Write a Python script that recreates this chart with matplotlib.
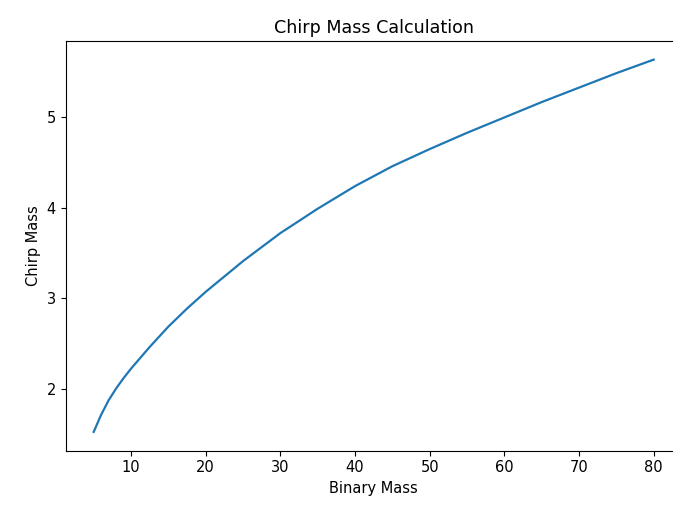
import numpy as np
import matplotlib
matplotlib.use('Agg')
import matplotlib.pyplot as plt

# values
binaryMass = [5, 6, 7, 8, 9, 10, 12.5, 15, 17.5, 20, 25, 30, 35, 40, 45,
              50, 55, 60, 65, 70, 75, 80]
chirpMass = [1.52, 1.71, 1.87, 2.00, 2.115, 2.22, 2.46, 2.685, 2.885, 3.07,
             3.41, 3.72, 3.99, 4.24, 4.46, 4.65, 4.83, 5.00, 5.17, 5.33,
             5.49, 5.64]

plt.rcParams['font.size'] = 10.5

fig = plt.figure(figsize=(6.73, 5.11), dpi=100)
# the reference is cropped on the right, so the axes run past the edge
ax = fig.add_axes([65.7/673, (511-450.5)/511, 616/673, 409.5/511])
ax.plot(binaryMass, chirpMass, color='#1f77b4', linewidth=1.6)
ax.spines['right'].set_visible(False)
ax.set_title('Chirp Mass Calculation', fontsize=12.6)
ax.set_xlabel('Binary Mass')
ax.set_ylabel('Chirp Mass')
fig.savefig('out.png', dpi=100)
